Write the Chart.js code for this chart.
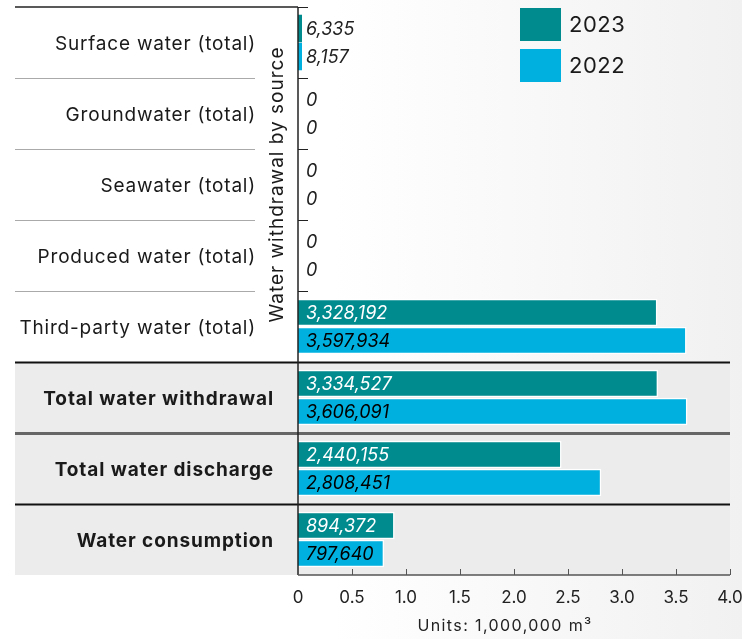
<!DOCTYPE html>
<html>
<head>
<meta charset="utf-8">
<script src="https://cdn.jsdelivr.net/npm/chart.js@4.4.0/dist/chart.umd.min.js"></script>
<style>
  html, body { margin: 0; padding: 0; }
  body { width: 742px; height: 639px; overflow: hidden;
    background: linear-gradient(to right, #ffffff 45%, #f1f1f1 100%); }
</style>
</head>
<body>
<canvas id="chart" width="742" height="639"></canvas>
<script>
const categories = [
  "Surface water (total)",
  "Groundwater (total)",
  "Seawater (total)",
  "Produced water (total)",
  "Third-party water (total)",
  "Total water withdrawal",
  "Total water discharge",
  "Water consumption"
];
const boldRows = [false, false, false, false, false, true, true, true];
const values2023 = [6335, 0, 0, 0, 3328192, 3334527, 2440155, 894372];
const values2022 = [8157, 0, 0, 0, 3597934, 3606091, 2808451, 797640];
const xTicks = [0, 0.5, 1.0, 1.5, 2.0, 2.5, 3.0, 3.5, 4.0];
const groupLabel = "Water withdrawal by source";
const unitsLabel = "Units: 1,000,000 m³";

const FONT = "Inter, 'Noto Sans', sans-serif";
const TEAL = "#008b8f";
const CYAN = "#00b0df";

// zero rows have no bar at all, only the "0" label
function toMillions(arr) {
  return arr.map(v => (v === 0 ? null : v / 1e6));
}

const rowsPlugin = {
  id: "rows",
  beforeDatasetsDraw(chart) {
    const ctx = chart.ctx;
    const y = chart.scales.y;
    const area = chart.chartArea;
    const half = (y.getPixelForValue(1) - y.getPixelForValue(0)) / 2;
    // shaded summary rows
    const top = y.getPixelForValue(5) - half;
    ctx.save();
    ctx.fillStyle = "#ececec";
    ctx.fillRect(15, top, area.right - 15, area.bottom - top);
    ctx.restore();
  },
  afterDatasetsDraw(chart) {
    const ctx = chart.ctx;
    const x = chart.scales.x;
    const y = chart.scales.y;
    const area = chart.chartArea;
    const half = (y.getPixelForValue(1) - y.getPixelForValue(0)) / 2;
    ctx.save();

    // separators
    ctx.strokeStyle = "#222";
    ctx.lineWidth = 1.5;
    ctx.beginPath();
    ctx.moveTo(15, area.top);
    ctx.lineTo(area.left, area.top);
    ctx.stroke();
    for (let i = 1; i < categories.length; i++) {
      const yy = Math.round(y.getPixelForValue(i) - half) + 0.5;
      ctx.beginPath();
      if (i < 5) {
        ctx.strokeStyle = "#aaaaaa";
        ctx.lineWidth = 1;
        ctx.moveTo(15, yy);
        ctx.lineTo(255, yy);
      } else if (i === 6) {
        ctx.strokeStyle = "#666666";
        ctx.lineWidth = 3;
        ctx.moveTo(15, yy);
        ctx.lineTo(area.right, yy);
      } else {
        ctx.strokeStyle = "#111";
        ctx.lineWidth = 2;
        ctx.moveTo(15, yy);
        ctx.lineTo(area.right, yy);
      }
      ctx.stroke();
    }

    // y axis line and row ticks
    ctx.strokeStyle = "#222";
    ctx.lineWidth = 1.5;
    ctx.beginPath();
    ctx.moveTo(area.left, area.top);
    ctx.lineTo(area.left, area.bottom);
    ctx.stroke();
    for (let i = 0; i < 5; i++) {
      const yy = Math.round(y.getPixelForValue(i) - half) + 0.5;
      ctx.beginPath();
      ctx.lineWidth = 1;
      ctx.moveTo(area.left, yy);
      ctx.lineTo(area.left + 10, yy);
      ctx.stroke();
    }

    // x axis line and inward ticks
    ctx.strokeStyle = "#555";
    ctx.lineWidth = 1.5;
    ctx.beginPath();
    ctx.moveTo(area.left, area.bottom);
    ctx.lineTo(area.right, area.bottom);
    ctx.stroke();
    ctx.lineWidth = 1;
    xTicks.forEach(t => {
      if (t === 0) return;
      const xx = Math.round(x.getPixelForValue(t)) + 0.5;
      ctx.beginPath();
      ctx.moveTo(xx, area.bottom);
      ctx.lineTo(xx, area.bottom - 6);
      ctx.stroke();
    });

    // category labels
    ctx.fillStyle = "#1a1a1a";
    ctx.textBaseline = "middle";
    ctx.textAlign = "right";
    categories.forEach((c, i) => {
      const yy = y.getPixelForValue(i) + 2;
      if (boldRows[i]) {
        ctx.font = "bold 19px " + FONT;
        ctx.letterSpacing = "0.9px";
        ctx.fillText(c, 274, yy);
      } else {
        ctx.font = "19px " + FONT;
        ctx.letterSpacing = "0.8px";
        ctx.fillText(c, 256, yy);
      }
    });

    // rotated group label
    const gy = (y.getPixelForValue(0) + y.getPixelForValue(4)) / 2;
    ctx.save();
    ctx.translate(277, gy);
    ctx.rotate(-Math.PI / 2);
    ctx.textAlign = "center";
    ctx.font = "19px " + FONT;
    ctx.letterSpacing = "1px";
    ctx.fillText(groupLabel, 0, 0);
    ctx.restore();

    // units title under the axis
    ctx.textAlign = "center";
    ctx.font = "16px " + FONT;
    ctx.letterSpacing = "1.4px";
    ctx.fillStyle = "#222";
    ctx.fillText(unitsLabel, 505, 626);

    // value labels
    const raw = [values2023, values2022];
    ctx.font = "italic 18px " + FONT;
    ctx.letterSpacing = "0px";
    ctx.textAlign = "left";
    chart.data.datasets.forEach((ds, di) => {
      const meta = chart.getDatasetMeta(di);
      meta.data.forEach((bar, i) => {
        const txt = raw[di][i].toLocaleString("en-US");
        const w = ctx.measureText(txt).width;
        const inside = Math.abs(bar.x - bar.base) > w + 12;
        ctx.fillStyle = inside ? (di === 0 ? "#ffffff" : "#000000") : "#222";
        ctx.fillText(txt, area.left + 8, bar.y + 1);
      });
    });

    // legend
    ctx.font = "22px " + FONT;
    ctx.letterSpacing = "0.5px";
    chart.data.datasets.forEach((ds, di) => {
      const ly = 8 + di * 41;
      ctx.fillStyle = ds.backgroundColor;
      ctx.fillRect(520, ly, 41, 33);
      ctx.fillStyle = "#1a1a1a";
      ctx.fillText(ds.label, 569, ly + 17);
    });

    ctx.restore();
  }
};

new Chart(document.getElementById("chart"), {
  type: "bar",
  data: {
    labels: categories,
    datasets: [
      {
        label: "2023",
        data: toMillions(values2023),
        backgroundColor: TEAL,
        borderColor: "#ffffff",
        borderWidth: c => (c.raw > 0.1 ? 1.5 : 0),
        borderSkipped: "left",
        minBarLength: 4,
        categoryPercentage: 0.79,
        barPercentage: 0.98
      },
      {
        label: "2022",
        data: toMillions(values2022),
        backgroundColor: CYAN,
        borderColor: "#ffffff",
        borderWidth: c => (c.raw > 0.1 ? 1.5 : 0),
        borderSkipped: "left",
        minBarLength: 4,
        categoryPercentage: 0.79,
        barPercentage: 0.98
      }
    ]
  },
  options: {
    indexAxis: "y",
    responsive: false,
    animation: false,
    layout: { padding: { top: 7, right: 12, left: 0, bottom: 0 } },
    plugins: {
      legend: { display: false },
      tooltip: { enabled: false }
    },
    scales: {
      y: {
        grid: { display: false },
        border: { display: false },
        ticks: { display: false },
        afterFit: s => { s.width = 298; }
      },
      x: {
        min: 0,
        max: 4,
        grid: { display: false, drawTicks: false },
        border: { display: false },
        afterBuildTicks: s => { s.ticks = xTicks.map(v => ({ value: v })); },
        ticks: {
          padding: 13,
          color: "#222",
          font: { family: FONT, size: 17 },
          callback: v => (v === 0 ? "0" : Number(v).toFixed(1))
        },
        afterFit: s => {
          s.height = 64;
          s.paddingLeft = 0;
          s.paddingRight = 0;
        }
      }
    }
  },
  plugins: [rowsPlugin]
});
</script>
</body>
</html>
